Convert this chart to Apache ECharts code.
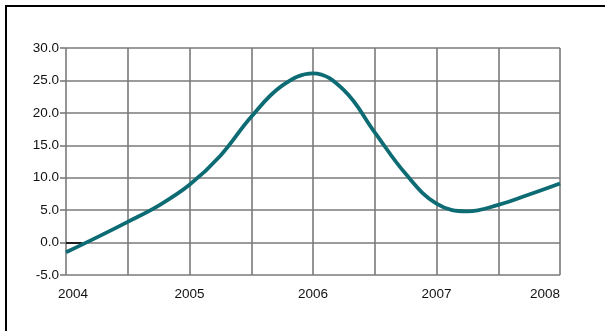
<!DOCTYPE html>
<html>
<head>
<meta charset="utf-8">
<script src="https://cdn.jsdelivr.net/npm/echarts@6/dist/echarts.min.js"></script>
<style>
html,body{margin:0;padding:0;background:#fff;}
#chart{position:absolute;left:0;top:0;width:605px;height:331px;}
#frame{position:absolute;left:5px;top:5px;width:610px;height:340px;border-left:2px solid #000;border-top:2px solid #000;pointer-events:none;}
</style>
</head>
<body>
<div id="chart"></div>
<div id="frame"></div>
<script>
// Quarterly time positions (years) and values
const periods = [2004.0, 2004.25, 2004.5, 2004.75, 2005.0, 2005.25, 2005.5, 2005.75, 2006.0, 2006.25, 2006.5, 2006.75, 2007.0, 2007.25, 2007.5, 2007.75, 2008.0];
const values  = [-1.5, 0.8, 3.2, 5.7, 8.9, 13.4, 19.4, 24.2, 26.1, 23.5, 17.0, 10.6, 6.0, 4.8, 5.8, 7.4, 9.1];
const yearLabels = [2004, 2005, 2006, 2007, 2008];
const yTicks = [-5, 0, 5, 10, 15, 20, 25, 30];

const chart = echarts.init(document.getElementById('chart'));
const font = 'Liberation Sans, Arial, sans-serif';
chart.setOption({
  animation: false,
  backgroundColor: '#fff',
  grid: { left: 66, right: 45, top: 48, bottom: 56 },
  xAxis: {
    type: 'value',
    min: yearLabels[0],
    max: yearLabels[yearLabels.length - 1],
    interval: 0.5,
    axisLine: { show: false },
    axisTick: { show: false },
    splitLine: { show: true, lineStyle: { color: '#7a7a7a', width: 1.6 } },
    axisLabel: {
      margin: 12,
      color: '#111',
      fontFamily: font,
      fontSize: 13.5,
      alignMaxLabel: 'right',
      formatter: function (v) {
        if (Math.abs(v - Math.round(v)) > 1e-6) return '';
        if (v === yearLabels[0]) return '{a|' + v + '}';
        return String(v);
      },
      rich: { a: { padding: [0, 0, 0, 14], fontSize: 13.5, fontFamily: font, color: '#111' } }
    }
  },
  yAxis: {
    type: 'value',
    min: yTicks[0],
    max: yTicks[yTicks.length - 1],
    interval: 5,
    axisLine: { show: false },
    axisTick: { show: true, length: 6, lineStyle: { color: '#7a7a7a', width: 1.6 } },
    splitLine: { show: true, lineStyle: { color: '#7a7a7a', width: 1.6 } },
    axisLabel: {
      margin: 7,
      color: '#111',
      fontFamily: font,
      fontSize: 13.5,
      formatter: function (v) { return v.toFixed(1); }
    }
  },
  series: [{
    type: 'line',
    data: periods.map((p, i) => [p, values[i]]),
    smooth: 0.4,
    showSymbol: false,
    symbol: 'none',
    lineStyle: { color: '#0d6b73', width: 3.8 },
    markLine: {
      silent: true,
      symbol: 'none',
      label: { show: false },
      lineStyle: { color: '#000', width: 1.6, type: 'solid' },
      data: [[{ coord: [2004, 0] }, { coord: [2004.13, 0] }]]
    },
    z: 5
  }]
});
</script>
</body>
</html>
